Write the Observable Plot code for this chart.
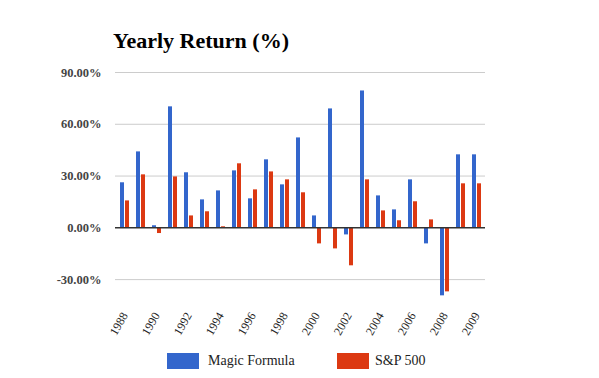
<!DOCTYPE html>
<html><head><meta charset="utf-8">
<script src="https://cdn.jsdelivr.net/npm/d3@7"></script>
<script src="https://cdn.jsdelivr.net/npm/@observablehq/plot@0.6"></script>
<style>
body{margin:0;background:#fff;}
#wrap{position:relative;width:599px;height:378px;font-family:"Liberation Serif","Times New Roman",serif;}
#title{position:absolute;left:113px;top:30px;font-size:22px;font-weight:bold;line-height:1;color:#000;white-space:nowrap}
.sw{position:absolute;width:32px;height:16px;top:353px}
.lt{position:absolute;top:353px;line-height:16px;font-size:14px;color:#222;white-space:nowrap}
#wrap svg{position:absolute;left:0;top:0}
#wrap svg text{font-family:"Liberation Serif","Times New Roman",serif}
</style></head><body>
<div id="wrap">
<div id="title">Yearly Return (%)</div>
</div>
<script>
const years = ["1988","1989","1990","1991","1992","1993","1994","1995","1996","1997","1998","1999","2000","2001","2002","2003","2004","2005","2006","2007","2008","2009","2009"];
const magicFormula = [26.1,44.0,1.2,70.1,31.9,16.2,21.4,33.0,16.8,39.4,24.9,52.1,6.9,68.9,-4.1,79.3,18.5,10.4,27.8,-9.3,-39.4,42.3,42.3];
const sp500 = [15.6,30.7,-3.3,29.5,6.9,9.3,0.6,37.1,22.0,32.4,27.8,20.3,-9.3,-12.2,-22.0,27.8,9.8,4.1,15.1,4.6,-37.1,25.5,25.5];
const yTicks = [-30,0,30,60,90];
const series = ["Magic Formula","S&P 500"];
const colors = ["#3366cc","#dc3912"];

const n = years.length;
const data = years.map((y,i)=>({i, year:y, magic:magicFormula[i], sp:sp500[i]}));
const serif = "'Liberation Serif','Times New Roman',serif";

const chart = Plot.plot({
  width:599, height:378,
  marginTop:72, marginBottom:73, marginLeft:115, marginRight:114,
  style:{fontFamily:serif, background:"transparent"},
  x:{type:"band", domain:d3.range(n), paddingInner:0.44, paddingOuter:0.25, axis:null},
  y:{domain:[-45,90], axis:null},
  marks:[
    Plot.ruleY(yTicks.filter(d=>d!==0),{stroke:"#ccc", strokeWidth:1}),
    Plot.barY(data,{x:"i", y:"magic", fill:colors[0], insetRight:5}),
    Plot.barY(data,{x:"i", y:"sp", fill:colors[1], insetLeft:5}),
    Plot.ruleY([0],{stroke:"#333", strokeWidth:1.5}),
    Plot.axisY(yTicks,{label:null, tickSize:0, tickPadding:14, tickFormat:d=>d.toFixed(2)+"%", fontSize:12.5, fontWeight:"bold", fontFamily:serif, fill:"#444"}),
    Plot.axisX(d3.range(0,n,2),{label:null, tickSize:0, tickRotate:-60, tickPadding:8, tickFormat:i=>years[i], fontSize:12, fontFamily:serif, fill:"#222"})
  ]
});
const wrap = document.getElementById("wrap");
wrap.appendChild(chart);

const swLeft = [167,337], txLeft = [208,375];
series.forEach((s,k)=>{
  const sw = document.createElement("div");
  sw.className="sw"; sw.style.left=swLeft[k]+"px"; sw.style.background=colors[k];
  const t = document.createElement("div");
  t.className="lt"; t.style.left=txLeft[k]+"px"; t.textContent=s;
  wrap.appendChild(sw); wrap.appendChild(t);
});
</script>
</body></html>
